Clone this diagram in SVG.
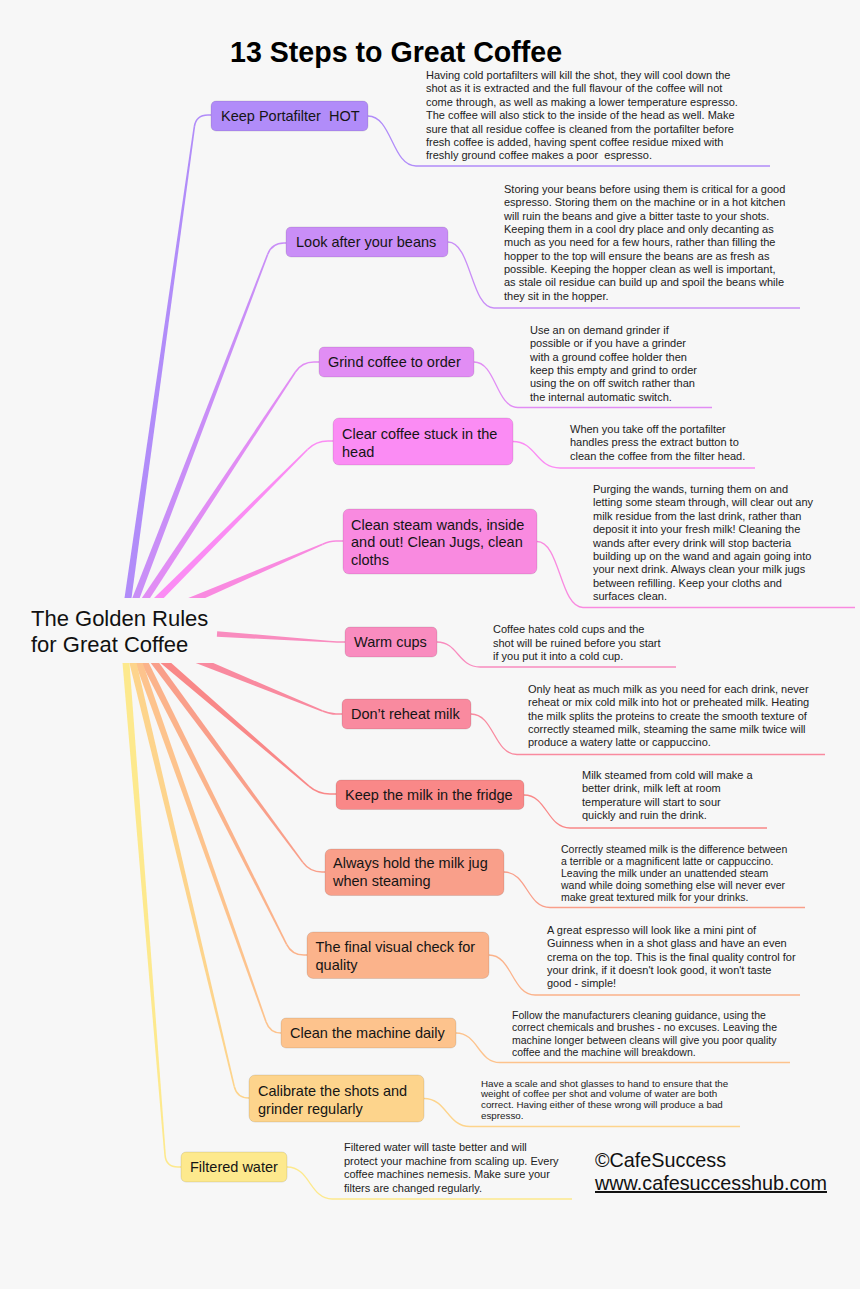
<svg xmlns="http://www.w3.org/2000/svg" width="860" height="1289" viewBox="0 0 860 1289">
<style>
.bg{fill:#f7f7f7}
.title{font-family:"Liberation Sans",Arial,sans-serif;font-weight:bold;font-size:28.6px;fill:#000}
.center{font-family:"Liberation Sans",Arial,sans-serif;font-size:22px;fill:#111}
.box{stroke:#000;stroke-opacity:0.13;stroke-width:0.8}
.lbl{font-family:"Liberation Sans",Arial,sans-serif;font-size:14.5px;fill:#151515;white-space:pre}
.desc{font-family:"Liberation Sans",Arial,sans-serif;font-size:11px;fill:#222;white-space:pre}
.d105{font-size:10.5px}
.d98{font-size:9.8px}
.link{fill:none;stroke-width:1.3}
.end{fill:none;stroke-width:1.6}
.copy{font-family:"Liberation Sans",Arial,sans-serif;font-size:19.8px;fill:#111}
</style>
<rect class="bg" x="0" y="0" width="860" height="1289"/>
<text class="title" x="230" y="62">13 Steps to Great Coffee</text>

<g id="connectors">
  <!-- tapered branches from the central topic -->
  <g fill="#b18cf9"><polygon points="130.77,603.44 195.12,126.99 193.54,126.77 123.83,602.46"/></g>
  <path class="end" stroke="#b18cf9" d="M194.33,126.88 Q196,115 208,115 L211,115"/>
  <g fill="#c98ef7"><polygon points="137.48,603.92 268.46,254.50 266.96,253.92 130.94,601.42"/></g>
  <path class="end" stroke="#c98ef7" d="M267.71,254.21 Q272,243 284,243 L286,243"/>
  <g fill="#e18df4"><polygon points="146.16,604.10 296.05,372.45 294.71,371.57 140.32,600.24"/></g>
  <path class="end" stroke="#e18df4" d="M295.38,372.01 Q302,362 314,362 L319,362"/>
  <g fill="#fb8cf4"><polygon points="157.93,604.0 308.08,450.06 306.94,448.92 152.99,599.07"/></g>
  <path class="end" stroke="#fb8cf4" d="M307.51,449.49 Q316,441 328,441 L333,441"/>
  <g fill="#f98ae0"><polygon points="189.19,605.16 322.97,544.89 322.33,543.41 186.43,598.72"/></g>
  <path class="end" stroke="#f98ae0" d="M322.65,544.15 Q330,541 336,541 L343,541"/>
  <g fill="#f98cbf"><polygon points="216.81,636.79 328.97,642.27 329.07,640.67 217.19,631.21"/></g>
  <path class="end" stroke="#f98cbf" d="M329.02,641.47 Q337,642 345,642"/>
  <g fill="#f98a9f"><polygon points="194.42,662.46 322.29,711.72 322.89,710.24 197.06,655.98"/></g>
  <path class="end" stroke="#f98a9f" d="M322.59,710.98 Q330,714 336,714 L342,714"/>
  <g fill="#f98888"><polygon points="159.93,662.39 308.39,786.78 309.43,785.56 164.49,657.09"/></g>
  <path class="end" stroke="#f98888" d="M308.91,786.17 Q318,794 330,794 L336,794"/>
  <g fill="#f99f8a"><polygon points="149.21,661.06 302.21,862.84 303.49,861.88 154.83,656.90"/></g>
  <path class="end" stroke="#f99f8a" d="M302.85,862.36 Q310,872 322,872 L325,872"/>
  <g fill="#fbb38b"><polygon points="139.62,660.10 285.89,944.64 287.31,943.92 145.88,656.96"/></g>
  <path class="end" stroke="#fbb38b" d="M286.60,944.28 Q292,955 304,955 L307,955"/>
  <g fill="#fdc38d"><polygon points="134.03,659.46 265.25,1021.96 266.75,1021.42 140.63,657.12"/></g>
  <path class="end" stroke="#fdc38d" d="M266.0,1021.69 Q270,1033 281,1033"/>
  <g fill="#fdd48c"><polygon points="128.44,658.95 233.43,1086.52 234.99,1086.14 135.24,657.33"/></g>
  <path class="end" stroke="#fdd48c" d="M234.21,1086.33 Q237,1098 249,1098"/>
  <g fill="#fde98d"><polygon points="122.11,658.30 164.25,1155.10 165.85,1154.98 129.09,657.74"/></g>
  <path class="end" stroke="#fde98d" d="M165.05,1155.04 Q166,1167 178,1167 L181,1167"/>

  <!-- links from topics to their notes -->
  <path class="link" stroke="#b18cf9" d="M368,116 C392,116 392,166 416,166 L770,166"/>
  <path class="link" stroke="#c98ef7" d="M448,242 C471,242 471,308 494,308 L800,308"/>
  <path class="link" stroke="#e18df4" d="M474,362 C496,362 496,407.5 518,407.5 L712,407.5"/>
  <path class="link" stroke="#fb8cf4" d="M513,441.5 C536,441.5 536,468 560,468 L755,468"/>
  <path class="link" stroke="#f98ae0" d="M537,541.5 C560,541.5 560,607.5 583,607.5 L855,607.5"/>
  <path class="link" stroke="#f98cbf" d="M437,642 C458,642 458,667 480,667 L676,667"/>
  <path class="link" stroke="#f98a9f" d="M471,714 C494,714 494,754.5 517,754.5 L825,754.5"/>
  <path class="link" stroke="#f98888" d="M524,795 C547,795 547,828 570,828 L767,828"/>
  <path class="link" stroke="#f99f8a" d="M504,872 C527,872 527,907.5 550,907.5 L805,907.5"/>
  <path class="link" stroke="#fbb38b" d="M489,955 C512,955 512,995 535,995 L800,995"/>
  <path class="link" stroke="#fdc38d" d="M456,1033 C478,1033 478,1062.5 500,1062.5 L790,1062.5"/>
  <path class="link" stroke="#fdd48c" d="M424,1098.5 C447,1098.5 447,1126.5 470,1126.5 L740,1126.5"/>
  <path class="link" stroke="#fde98d" d="M287,1167 C310,1167 310,1199 332,1199 L572,1199"/>
</g>

<g id="center">
  <rect class="bg" x="0" y="598" width="214" height="65"/>
  <text class="center" x="31" y="626">The Golden Rules</text>
  <text class="center" x="31" y="652">for Great Coffee</text>
</g>

<g id="n1">
  <rect class="box" x="211" y="101" width="157" height="30" rx="5" fill="#b18cf9"/>
  <text class="lbl" x="221" y="121">Keep Portafilter  HOT</text>
  <text class="desc" x="426" y="79">
    <tspan x="426" y="79">Having cold portafilters will kill the shot, they will cool down the</tspan>
    <tspan x="426" y="92.4">shot as it is extracted and the full flavour of the coffee will not</tspan>
    <tspan x="426" y="105.8">come through, as well as making a lower temperature espresso.</tspan>
    <tspan x="426" y="119.2">The coffee will also stick to the inside of the head as well. Make</tspan>
    <tspan x="426" y="132.6">sure that all residue coffee is cleaned from the portafilter before</tspan>
    <tspan x="426" y="146">fresh coffee is added, having spent coffee residue mixed with</tspan>
    <tspan x="426" y="159.4">freshly ground coffee makes a poor  espresso.</tspan>
  </text>
</g>

<g id="n2">
  <rect class="box" x="286" y="227" width="162" height="30" rx="5" fill="#c98ef7"/>
  <text class="lbl" x="296" y="247">Look after your beans</text>
  <text class="desc">
    <tspan x="504" y="193">Storing your beans before using them is critical for a good</tspan>
    <tspan x="504" y="206.35">espresso. Storing them on the machine or in a hot kitchen</tspan>
    <tspan x="504" y="219.7">will ruin the beans and give a bitter taste to your shots.</tspan>
    <tspan x="504" y="233.05">Keeping them in a cool dry place and only decanting as</tspan>
    <tspan x="504" y="246.4">much as you need for a few hours, rather than filling the</tspan>
    <tspan x="504" y="259.75">hopper to the top will ensure the beans are as fresh as</tspan>
    <tspan x="504" y="273.1">possible. Keeping the hopper clean as well is important,</tspan>
    <tspan x="504" y="286.45">as stale oil residue can build up and spoil the beans while</tspan>
    <tspan x="504" y="299.8">they sit in the hopper.</tspan>
  </text>
</g>

<g id="n3">
  <rect class="box" x="319" y="347" width="155" height="30" rx="5" fill="#e18df4"/>
  <text class="lbl" x="328" y="367">Grind coffee to order</text>
  <text class="desc">
    <tspan x="530" y="334">Use an on demand grinder if</tspan>
    <tspan x="530" y="347.3">possible or if you have a grinder</tspan>
    <tspan x="530" y="360.6">with a ground coffee holder then</tspan>
    <tspan x="530" y="373.9">keep this empty and grind to order</tspan>
    <tspan x="530" y="387.2">using the on off switch rather than</tspan>
    <tspan x="530" y="400.5">the internal automatic switch.</tspan>
  </text>
</g>

<g id="n4">
  <rect class="box" x="333" y="418" width="180" height="47" rx="6" fill="#fb8cf4"/>
  <text class="lbl">
    <tspan x="342" y="439">Clear coffee stuck in the</tspan>
    <tspan x="342" y="456.5">head</tspan>
  </text>
  <text class="desc">
    <tspan x="570" y="432.5">When you take off the portafilter</tspan>
    <tspan x="570" y="446.2">handles press the extract button to</tspan>
    <tspan x="570" y="459.9">clean the coffee from the filter head.</tspan>
  </text>
</g>

<g id="n5">
  <rect class="box" x="343" y="509" width="194" height="65" rx="6" fill="#f98ae0"/>
  <text class="lbl">
    <tspan x="351" y="529.5">Clean steam wands, inside</tspan>
    <tspan x="351" y="547">and out! Clean Jugs, clean</tspan>
    <tspan x="351" y="564.5">cloths</tspan>
  </text>
  <text class="desc">
    <tspan x="593" y="493">Purging the wands, turning them on and</tspan>
    <tspan x="593" y="506.4">letting some steam through, will clear out any</tspan>
    <tspan x="593" y="519.8">milk residue from the last drink, rather than</tspan>
    <tspan x="593" y="533.2">deposit it into your fresh milk! Cleaning the</tspan>
    <tspan x="593" y="546.6">wands after every drink will stop bacteria</tspan>
    <tspan x="593" y="560">building up on the wand and again going into</tspan>
    <tspan x="593" y="573.4">your next drink. Always clean your milk jugs</tspan>
    <tspan x="593" y="586.8">between refilling. Keep your cloths and</tspan>
    <tspan x="593" y="600.2">surfaces clean.</tspan>
  </text>
</g>

<g id="n6">
  <rect class="box" x="345" y="627" width="92" height="30" rx="5" fill="#f98cbf"/>
  <text class="lbl" x="354" y="647">Warm cups</text>
  <text class="desc">
    <tspan x="493" y="633">Coffee hates cold cups and the</tspan>
    <tspan x="493" y="646.5">shot will be ruined before you start</tspan>
    <tspan x="493" y="660">if you put it into a cold cup.</tspan>
  </text>
</g>

<g id="n7">
  <rect class="box" x="342" y="699" width="129" height="30" rx="5" fill="#f98a9f"/>
  <text class="lbl" x="351" y="719">Don’t reheat milk</text>
  <text class="desc">
    <tspan x="528" y="693">Only heat as much milk as you need for each drink, never</tspan>
    <tspan x="528" y="706.3">reheat or mix cold milk into hot or preheated milk. Heating</tspan>
    <tspan x="528" y="719.6">the milk splits the proteins to create the smooth texture of</tspan>
    <tspan x="528" y="732.9">correctly steamed milk, steaming the same milk twice will</tspan>
    <tspan x="528" y="746.2">produce a watery latte or cappuccino.</tspan>
  </text>
</g>

<g id="n8">
  <rect class="box" x="336" y="780" width="188" height="29.5" rx="5" fill="#f98888"/>
  <text class="lbl" x="345" y="800">Keep the milk in the fridge</text>
  <text class="desc">
    <tspan x="582" y="779">Milk steamed from cold will make a</tspan>
    <tspan x="582" y="792.4">better drink, milk left at room</tspan>
    <tspan x="582" y="805.8">temperature will start to sour</tspan>
    <tspan x="582" y="819.2">quickly and ruin the drink.</tspan>
  </text>
</g>

<g id="n9">
  <rect class="box" x="325" y="849" width="179" height="46.5" rx="6" fill="#f99f8a"/>
  <text class="lbl">
    <tspan x="333" y="868">Always hold the milk jug</tspan>
    <tspan x="333" y="885.5">when steaming</tspan>
  </text>
  <text class="desc d105">
    <tspan x="561" y="852.8">Correctly steamed milk is the difference between</tspan>
    <tspan x="561" y="864.9">a terrible or a magnificent latte or cappuccino.</tspan>
    <tspan x="561" y="877">Leaving the milk under an unattended steam</tspan>
    <tspan x="561" y="889.1">wand while doing something else will never ever</tspan>
    <tspan x="561" y="901.2">make great textured milk for your drinks.</tspan>
  </text>
</g>

<g id="n10">
  <rect class="box" x="307" y="932" width="182" height="46.5" rx="6" fill="#fbb38b"/>
  <text class="lbl">
    <tspan x="315.5" y="952">The final visual check for</tspan>
    <tspan x="315.5" y="970">quality</tspan>
  </text>
  <text class="desc">
    <tspan x="547" y="934">A great espresso will look like a mini pint of</tspan>
    <tspan x="547" y="947.3">Guinness when in a shot glass and have an even</tspan>
    <tspan x="547" y="960.6">crema on the top. This is the final quality control for</tspan>
    <tspan x="547" y="973.9">your drink, if it doesn't look good, it won't taste</tspan>
    <tspan x="547" y="987.2">good - simple!</tspan>
  </text>
</g>

<g id="n11">
  <rect class="box" x="281" y="1018" width="175" height="30" rx="5" fill="#fdc38d"/>
  <text class="lbl" x="290" y="1038">Clean the machine daily</text>
  <text class="desc d105">
    <tspan x="512" y="1019">Follow the manufacturers cleaning guidance, using the</tspan>
    <tspan x="512" y="1031.4">correct chemicals and brushes - no excuses. Leaving the</tspan>
    <tspan x="512" y="1043.8">machine longer between cleans will give you poor quality</tspan>
    <tspan x="512" y="1056.2">coffee and the machine will breakdown.</tspan>
  </text>
</g>

<g id="n12">
  <rect class="box" x="249" y="1075" width="175" height="47" rx="6" fill="#fdd48c"/>
  <text class="lbl">
    <tspan x="258" y="1096">Calibrate the shots and</tspan>
    <tspan x="258" y="1113.5">grinder regularly</tspan>
  </text>
  <text class="desc d98">
    <tspan x="481" y="1086.5">Have a scale and shot glasses to hand to ensure that the</tspan>
    <tspan x="481" y="1097.4">weight of coffee per shot and volume of water are both</tspan>
    <tspan x="481" y="1108.3">correct. Having either of these wrong will produce a bad</tspan>
    <tspan x="481" y="1119.2">espresso.</tspan>
  </text>
</g>

<g id="n13">
  <rect class="box" x="181" y="1152" width="106" height="30" rx="5" fill="#fde98d"/>
  <text class="lbl" x="190" y="1172">Filtered water</text>
  <text class="desc">
    <tspan x="344" y="1151">Filtered water will taste better and will</tspan>
    <tspan x="344" y="1164.6">protect your machine from scaling up. Every</tspan>
    <tspan x="344" y="1178.2">coffee machines nemesis. Make sure your</tspan>
    <tspan x="344" y="1191.8">filters are changed regularly.</tspan>
  </text>
</g>

<g id="credit">
  <text class="copy" x="595" y="1167">©CafeSuccess</text>
  <text class="copy" x="595" y="1190" text-decoration="underline">www.cafesuccesshub.com</text>
</g>
</svg>
